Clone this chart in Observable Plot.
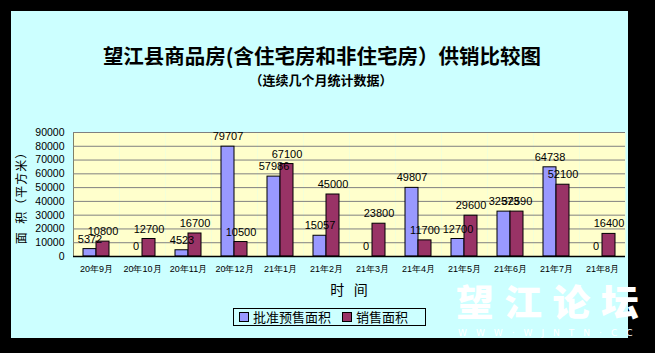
<!DOCTYPE html>
<html>
<head>
<meta charset="utf-8">
<script src="https://cdn.jsdelivr.net/npm/d3@7"></script>
<script src="https://cdn.jsdelivr.net/npm/@observablehq/plot@0.6"></script>
<style>
  html, body { margin: 0; padding: 0; background: #000; }
  #wrap { position: relative; width: 655px; height: 353px; overflow: hidden; background: #000; font-family: "Noto Sans CJK SC", "Liberation Sans", sans-serif; }
  #panel { position: absolute; left: 11px; top: 11px; width: 617px; height: 327px; background: #CCFFFF; }
  #chart { position: absolute; left: 0; top: 0; }
  #chart svg g[aria-label^="fx-axis"] text { font-size: 9px; }
  .abs { position: absolute; white-space: nowrap; color: #000; }
  #title { left: 0; width: 644px; top: 45px; text-align: center; font-size: 20.5px; font-weight: bold; line-height: 20px; }
  #subtitle { left: 0; width: 642px; top: 73px; text-align: center; font-size: 13px; font-weight: bold; line-height: 13px; }
  #ylabel { left: 20px; top: 195px; font-size: 12px; transform: translate(-50%, -50%) rotate(-90deg); letter-spacing: 1px; }
  #xlabel { left: 349px; top: 289px; font-size: 14px; transform: translate(-50%, -50%); }
  #legend { left: 233px; top: 308px; width: 191px; height: 16px; border: 1px solid #000; font-size: 13px; line-height: 16px; display: flex; align-items: center; }
  .sw { display: inline-block; width: 8px; height: 8px; border: 1px solid #000; margin: 0 4px 0 5px; }
  #wm1 { left: 456px; top: 280px; font-size: 36px; font-weight: 900; color: #fff; letter-spacing: 10px; line-height: 40px; transform: scaleX(1.05); transform-origin: left; }
  #wm2 { left: 458px; top: 327px; font-size: 9px; color: #fff; letter-spacing: 9px; font-family: "DejaVu Sans", sans-serif; line-height: 12px; }
</style>
</head>
<body>
<div id="wrap">
  <div id="panel"></div>
  <div id="chart"></div>
  <div class="abs" id="title">望江县商品房(含住宅房和非住宅房）供销比较图</div>
  <div class="abs" id="subtitle">（连续几个月统计数据）</div>
  <div class="abs" id="ylabel">面&nbsp;&nbsp;积（平方米）</div>
  <div class="abs" id="xlabel">时&nbsp;&nbsp;&nbsp;间</div>
  <div class="abs" id="legend"></div>
  <div class="abs" id="wm1">望江论坛</div>
  <div class="abs" id="wm2">WWW·WJNTN·CC</div>
</div>
<script>
const months = ["20年9月","20年10月","20年11月","20年12月","21年1月","21年2月","21年3月","21年4月","21年5月","21年6月","21年7月","21年8月"];
const presale = [5372, 0, 4523, 79707, 57986, 15057, 0, 49807, 12700, 32573, 64738, 0];
const sales = [10800, 12700, 16700, 10500, 67100, 45000, 23800, 11700, 29600, 32590, 52100, 16400];
const seriesNames = ["批准预售面积", "销售面积"];
const seriesColors = ["#9999FF", "#993366"];
const yTicks = [0, 10000, 20000, 30000, 40000, 50000, 60000, 70000, 80000, 90000];

const rows = months.flatMap((m, i) => [
  {month: m, series: seriesNames[0], value: presale[i]},
  {month: m, series: seriesNames[1], value: sales[i]}
]);

const chart = Plot.plot({
  width: 655,
  height: 353,
  marginTop: 132,
  marginBottom: 97,
  marginLeft: 71,
  marginRight: 28,
  style: {background: "transparent", fontFamily: "'Liberation Sans', sans-serif", fontSize: "10.5px", color: "#000"},
  fx: {domain: months, padding: 0, label: null, tickSize: 0, tickPadding: 9},
  x: {domain: seriesNames, paddingInner: 0, paddingOuter: 0.65, axis: null},
  y: {domain: [0, 90000], ticks: yTicks, tickFormat: d3.format("d"), label: null, tickSize: 0, tickPadding: 9, line: true},
  color: {domain: seriesNames, range: seriesColors},
  marks: [
    Plot.frame({fill: "#FFFFCC"}),
    Plot.ruleY(yTicks, {stroke: "#808080", strokeWidth: 1}),
    Plot.barY(rows, {fx: "month", x: "series", y: "value", fill: "series", stroke: "#000", strokeWidth: 1}),
    Plot.text(rows, {fx: "month", x: "series", y: "value", text: d => String(d.value), dy: -10, fontSize: 11, fill: "#000"}),
    Plot.ruleY([0], {stroke: "#000", strokeWidth: 1.5})
  ]
});
document.getElementById("chart").appendChild(chart);

const legend = document.getElementById("legend");
seriesNames.forEach((name, i) => {
  const sw = document.createElement("span");
  sw.className = "sw";
  sw.style.background = seriesColors[i];
  legend.appendChild(sw);
  const t = document.createElement("span");
  t.textContent = name;
  t.style.marginRight = "6px";
  legend.appendChild(t);
});
</script>
</body>
</html>
